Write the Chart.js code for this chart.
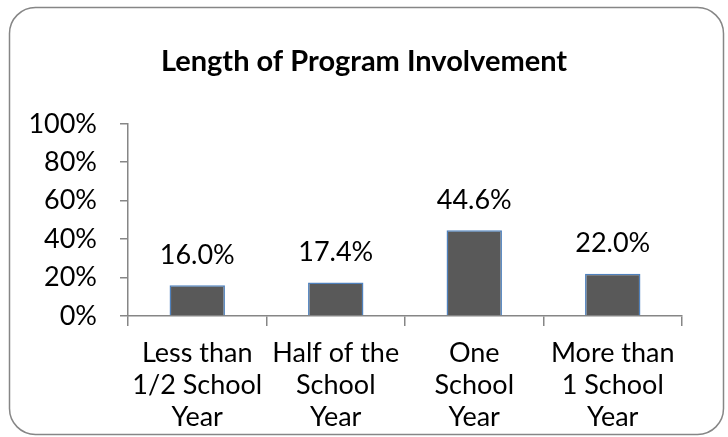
<!DOCTYPE html>
<html>
<head>
<meta charset="utf-8">
<script src="https://cdn.jsdelivr.net/npm/chart.js@4"></script>
<style>
  html, body { margin: 0; padding: 0; background: #fff; }
  #wrap { width: 728px; height: 437px; }
</style>
</head>
<body>
<div id="wrap"><canvas id="c" width="728" height="437"></canvas></div>
<script>
/* ═══ DATA ══════════════════════════════ */
const TITLE = 'Length of Program Involvement';
const CATEGORIES = [
  ['Less than', '1/2 School', 'Year'],
  ['Half of the', 'School', 'Year'],
  ['One', 'School', 'Year'],
  ['More than', '1 School', 'Year']
];
const VALUES = [16.0, 17.4, 44.6, 22.0];
const Y_TICKS = [0, 20, 40, 60, 80, 100];

const FONT = 'Lato, "Open Sans", sans-serif';
const AXIS_GRAY = '#868686';

// rounded frame round the whole chart
const framePlugin = {
  id: 'frame',
  beforeDraw(chart) {
    const ctx = chart.ctx;
    ctx.save();
    ctx.fillStyle = '#fff';
    ctx.fillRect(0, 0, chart.width, chart.height);
    ctx.strokeStyle = AXIS_GRAY;
    ctx.lineWidth = 1.5;
    ctx.beginPath();
    ctx.roundRect(9.5, 7.5, 714, 427, 26);
    ctx.stroke();
    ctx.restore();
  }
};

// value labels above each bar
const valueLabels = {
  id: 'valueLabels',
  afterDatasetsDraw(chart) {
    const ctx = chart.ctx;
    const meta = chart.getDatasetMeta(0);
    ctx.save();
    ctx.font = '27px ' + FONT;
    ctx.fillStyle = '#000';
    ctx.textAlign = 'center';
    ctx.textBaseline = 'middle';
    meta.data.forEach((bar, i) => {
      ctx.fillText(VALUES[i].toFixed(1) + '%', bar.x, bar.y - 30);
    });
    ctx.restore();
  }
};

new Chart(document.getElementById('c'), {
  type: 'bar',
  data: {
    labels: CATEGORIES,
    datasets: [{
      data: VALUES,
      backgroundColor: '#595959',
      borderColor: '#4F81BD',
      borderWidth: 1.5,
      barPercentage: 0.4,
      categoryPercentage: 1
    }]
  },
  options: {
    responsive: false,
    animation: false,
    devicePixelRatio: 1,
    layout: { padding: 0 },
    plugins: {
      legend: { display: false },
      tooltip: { enabled: false },
      title: {
        display: true,
        text: TITLE,
        color: '#000',
        font: { family: FONT, size: 29, weight: 'bold', lineHeight: 1.2 },
        padding: { top: 44, bottom: 45 }
      }
    },
    scales: {
      x: {
        afterFit: s => { s.height = 121; },
        grid: { drawOnChartArea: false, offset: true, tickLength: 10, color: AXIS_GRAY, lineWidth: 1.5 },
        border: { color: AXIS_GRAY, width: 1.5 },
        ticks: {
          color: '#000', autoSkip: false, maxRotation: 0, padding: 11,
          font: { family: FONT, size: 27, lineHeight: 1.185 }
        }
      },
      y: {
        min: 0, max: 100,
        afterFit: s => { s.width = 128; },
        afterBuildTicks: s => { s.ticks = Y_TICKS.map(v => ({ value: v })); },
        grid: { drawOnChartArea: false, tickLength: 8, color: AXIS_GRAY, lineWidth: 1.5 },
        border: { color: AXIS_GRAY, width: 1.5 },
        ticks: {
          color: '#000', padding: 23,
          font: { family: FONT, size: 27 },
          callback: v => v + '%'
        }
      },
      // empty right-hand axis, only reserves the margin right of the plot
      yPad: {
        position: 'right',
        afterFit: s => { s.width = 46; },
        grid: { display: false },
        border: { display: false },
        ticks: { display: false }
      }
    }
  },
  plugins: [framePlugin, valueLabels]
});
</script>
</body>
</html>
